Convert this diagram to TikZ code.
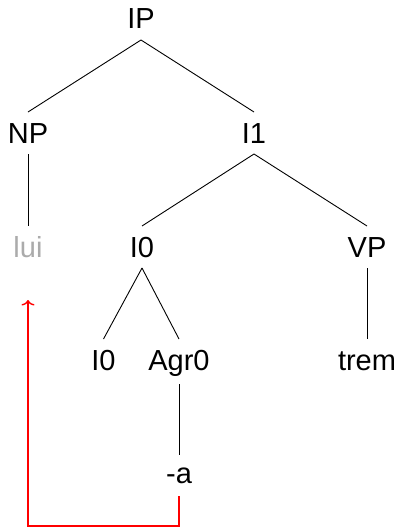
\documentclass[tikz,border=0pt]{standalone}
\usepackage{fontspec}
\setmainfont{Liberation Sans}
\usetikzlibrary{arrows.meta}
\begin{document}
\begin{tikzpicture}[x=1pt,y=-1pt,
  lab/.style={anchor=base,inner sep=0pt,outer sep=0pt,
    text height=31pt,text depth=11pt,
    font=\fontsize{29}{34}\selectfont},
  edge/.style={draw=black,line width=0.9pt},
  move/.style={draw=red,line width=1.5pt,-{To[length=5.5pt,width=13pt,line width=1.4pt]}}]
  \useasboundingbox (0,0) rectangle (399,527);

  % tree labels, placed at their baselines
  \node[lab] (IP)   at (141,29)  {IP};
  \node[lab] (NP)   at (28,143)  {NP};
  \node[lab] (I1)   at (254,143) {I1};
  \node[lab,text=black!33] (lui) at (28,257) {lui};
  \node[lab] (I0)   at (142,257) {I0};
  \node[lab] (VP)   at (367,257) {VP};
  \node[lab] (I0b)  at (103.5,370) {I0};
  \node[lab,text depth=14pt] (Agr) at (179,370) {Agr0};
  \node[lab] (trem) at (367,370) {trem};
  \node[lab,text height=28pt,text depth=13pt] (a) at (179,483) {-a};

  % branches
  \draw[edge] (IP.south) -- (NP.north);
  \draw[edge] (IP.south) -- (I1.north);
  \draw[edge] (NP.south) -- (lui.north);
  \draw[edge] (I1.south) -- (I0.north);
  \draw[edge] (I1.south) -- (VP.north);
  \draw[edge] (I0.south) -- (I0b.north);
  \draw[edge] (I0.south) -- (Agr.north);
  \draw[edge] (VP.south) -- (trem.north);
  \draw[edge] (Agr.south) -- (a.north);

  % movement arrow from -a back to lui
  \coordinate (floor) at (0,526);
  \coordinate (tip) at ([yshift=-32pt]lui.south);
  \draw[move] (a.south) -- (a.south |- floor) -- (lui.south |- floor) -- (tip);
\end{tikzpicture}
\end{document}
